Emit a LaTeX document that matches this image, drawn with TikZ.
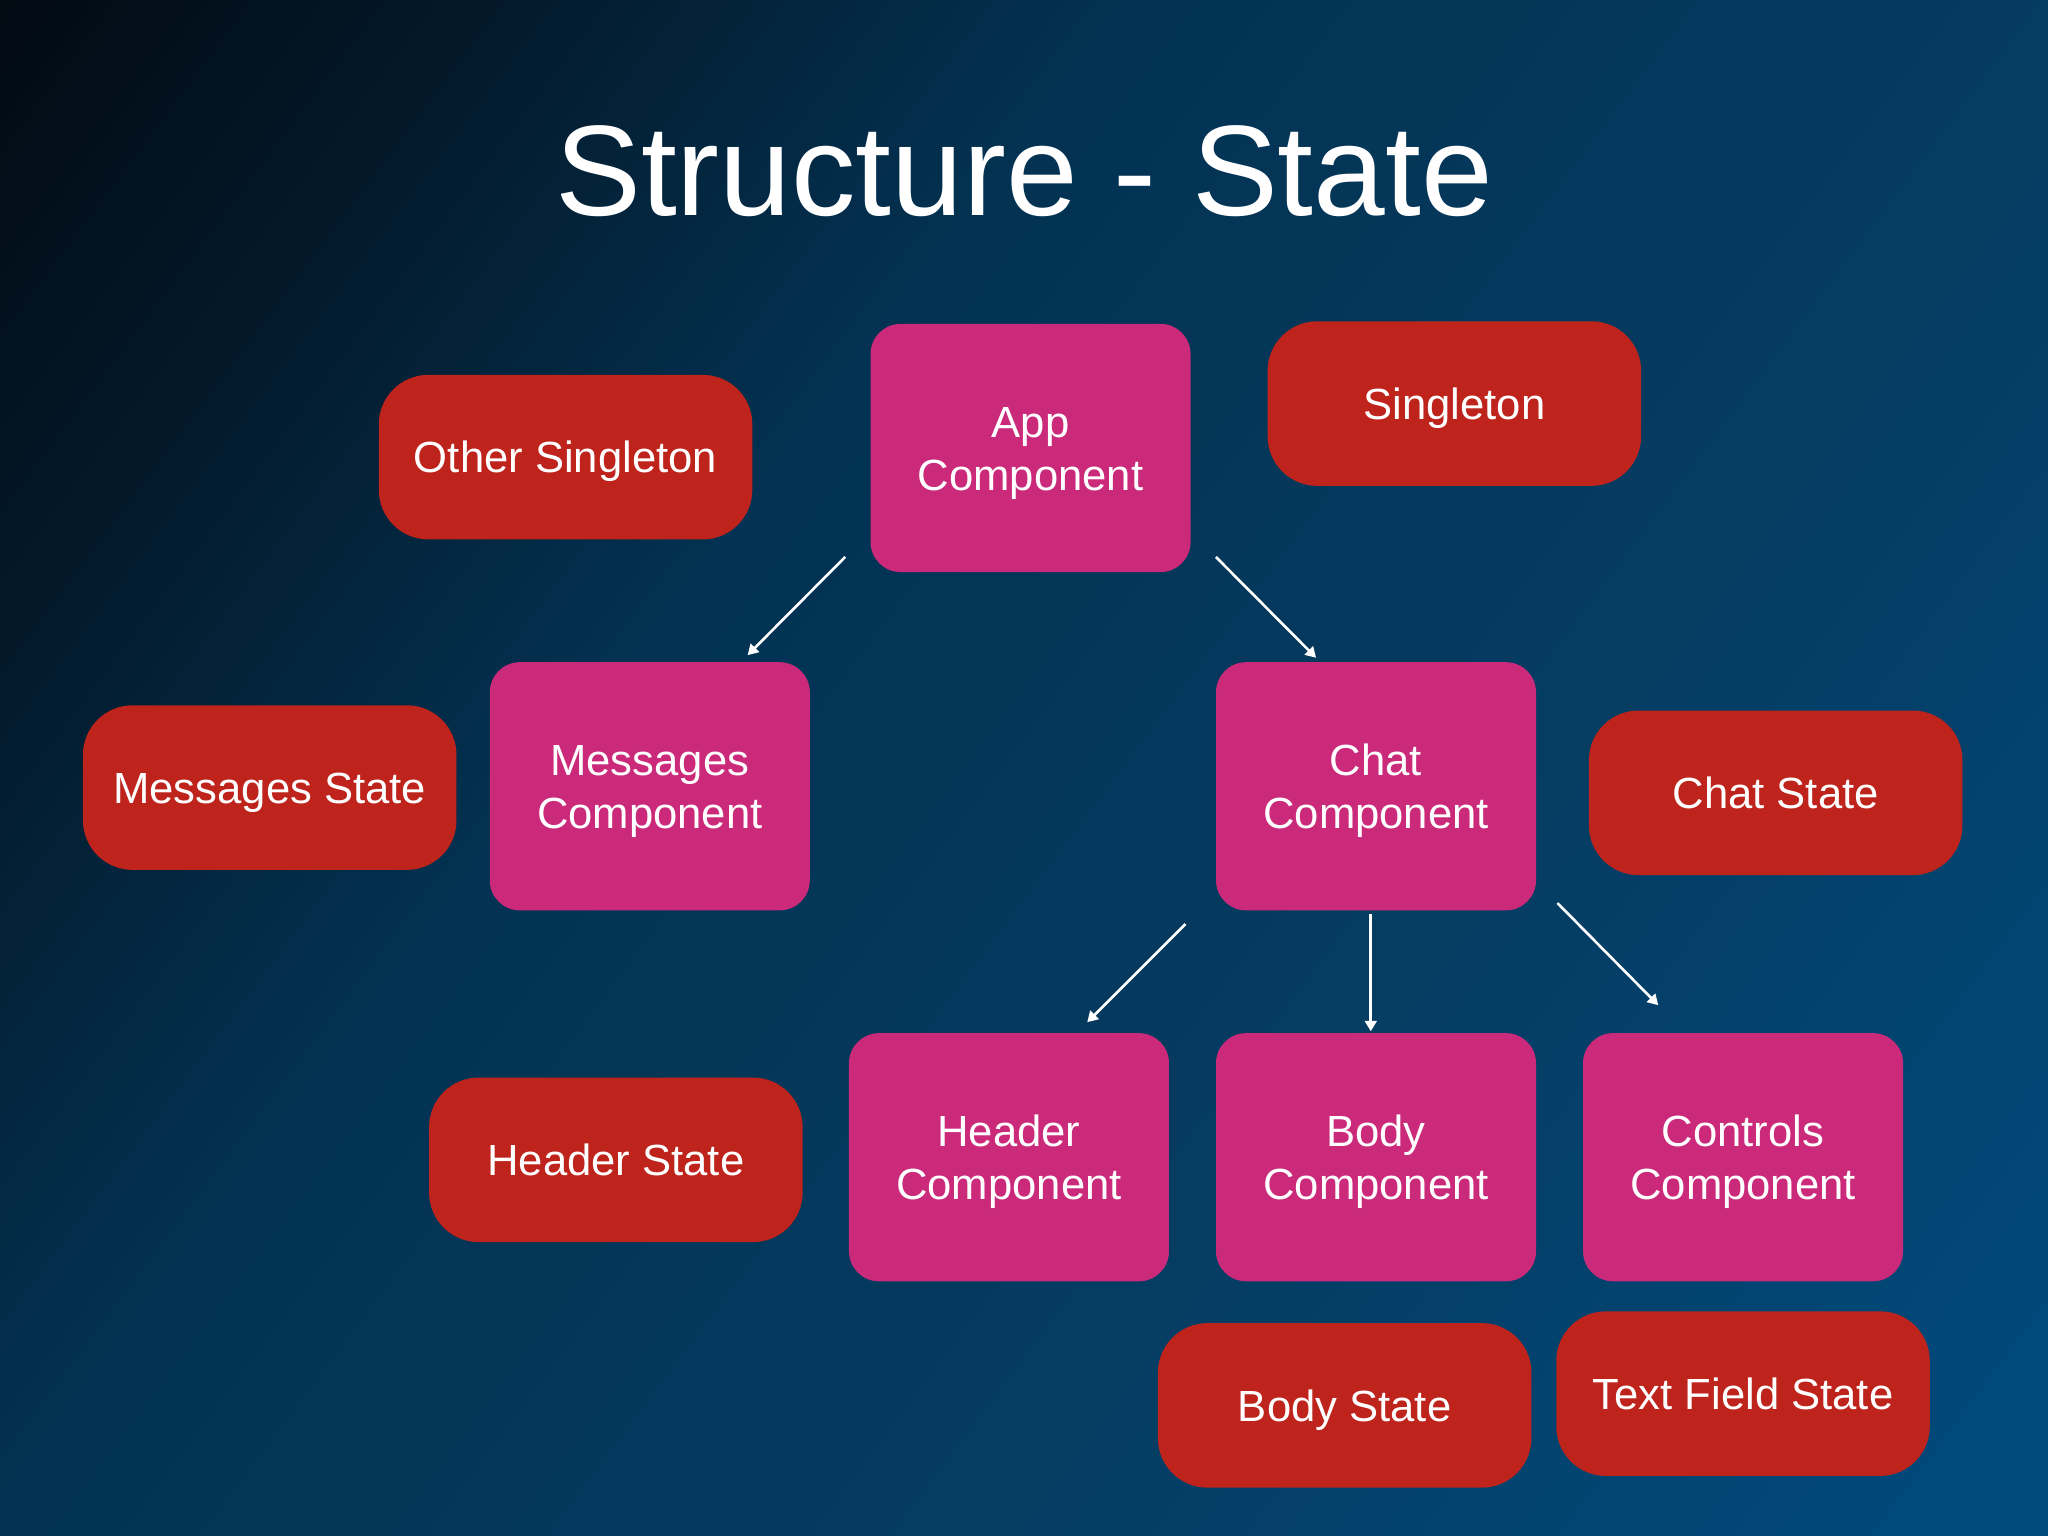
\documentclass[tikz,border=0pt]{standalone}
\usepackage{fontspec}
\setmainfont{Liberation Sans}
\usetikzlibrary{arrows.meta}
\definecolor{magbox}{HTML}{CB2A7B}
\definecolor{redbox}{HTML}{BE231C}
\definecolor{bgA}{HTML}{020A12}
\definecolor{bgB}{HTML}{03192A}
\definecolor{bgC}{HTML}{033252}
\definecolor{bgD}{HTML}{053C62}
\definecolor{bgE}{HTML}{004B7E}
\newcommand\twolines[2]{\vtop{\halign{\hfil##\hfil\cr #1\cr #2\cr}}}
\tikzset{
  boxtext/.style={text=white, inner sep=0pt, font=\fontsize{16.7pt}{20.25pt}\selectfont},
  comp/.style={boxtext, fill=magbox, rounded corners=11.5pt, minimum width=122.5pt, minimum height=95pt, text height=12pt, text depth=20.25pt},
  statebox/.style={boxtext, fill=redbox, rounded corners=19pt, minimum width=143pt, minimum height=63pt, text height=12pt, text depth=0pt},
  arr/.style={draw=white, line width=1pt, -{Triangle[width=4.5pt,length=4pt]}}
}
\begin{document}
\begin{tikzpicture}[x=0.5pt,y=-0.5pt]
\useasboundingbox (0,0) rectangle (1568,1176);
% background gradient
\begin{scope}
  \clip (0,0) rectangle (1568,1176);
  \begin{scope}[rotate=-36.87]
    \foreach \ca/\cb/\ta/\tb in {bgA/bgB/0/0.15,bgB/bgC/0.15/0.35,bgC/bgD/0.35/0.65,bgD/bgE/0.65/1}{
      \foreach \k in {0,...,24}{
        \pgfmathsetmacro{\tpos}{(\ta+(\tb-\ta)*\k/25)*980}
        \pgfmathtruncatemacro{\pcent}{\k*4}
        \fill[\cb!\pcent!\ca] (\tpos pt,-520pt) rectangle (1000pt,520pt);
      }
    }
  \end{scope}
\end{scope}
% title
\node[text=white, anchor=base, inner sep=0pt, font=\fontsize{49.3pt}{55pt}\selectfont] (title) at (784,165) {Structure - State};
% boxes
\node[statebox] (other) at (433,350) {Other Singleton};
\node[comp] (app) at (789,343) {\twolines{App}{Component}};
\node[statebox] (single) at (1113.5,309) {Singleton};
\node[statebox] (msgstate) at (206.5,603) {Messages State};
\node[comp] (msgcomp) at (497.5,602) {\twolines{Messages}{Component}};
\node[comp] (chat) at (1053.5,602) {\twolines{Chat}{Component}};
\node[statebox] (chatstate) at (1359.5,607) {Chat State};
\node[statebox] (headerstate) at (471.5,888) {Header State};
\node[comp] (header) at (772.5,886) {\twolines{Header}{Component}};
\node[comp] (body) at (1053.5,886) {\twolines{Body}{Component}};
\node[comp] (controls) at (1334.5,886) {\twolines{Controls}{Component}};
\node[statebox] (bodystate) at (1029.5,1076) {Body State};
\node[statebox] (tfstate) at (1334.5,1067) {Text Field State};
% arrows
\draw[arr] ([shift={(-19,-12)}]app.south west) -- ([shift={(-48,-5)}]msgcomp.north east);
\draw[arr] ([shift={(19,-12)}]app.south east) -- ([shift={(77,-3)}]chat.north west);
\draw[arr] ([shift={(-23,10)}]chat.south west) -- ([shift={(-63,-8)}]header.north east);
\draw[arr] ([shift={(-4,2)}]chat.south) -- ([shift={(-4,-1)}]body.north);
\draw[arr] ([shift={(16,-6)}]chat.south east) -- ([shift={(58,-21)}]controls.north west);
\end{tikzpicture}
\end{document}
